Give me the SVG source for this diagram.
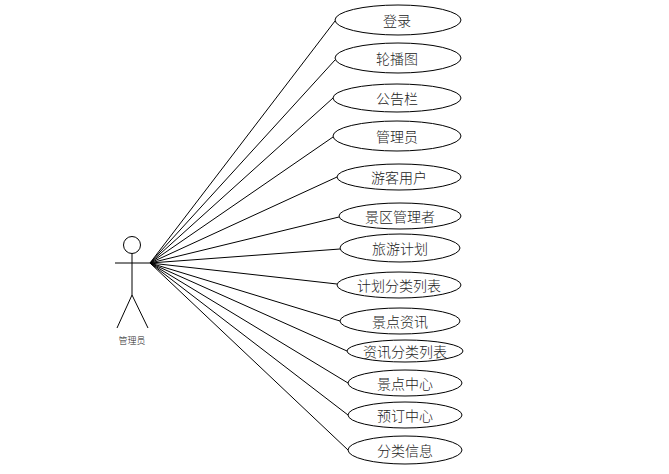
<svg xmlns="http://www.w3.org/2000/svg" width="669" height="474" viewBox="0 0 669 474">
<style>
.u ellipse{fill:#fff;stroke:#000;stroke-width:1}
.u text{font-family:"Noto Sans CJK SC",sans-serif;font-size:14px;font-weight:300;fill:#222;text-anchor:middle;dominant-baseline:central}
#conn line{stroke:#000;stroke-width:1}
.actor{stroke:#000;stroke-width:1;fill:none}
</style>
<rect width="669" height="474" fill="#fff"/>
<g id="conn">
<line x1="150" y1="263" x2="335" y2="21"/>
<line x1="150" y1="263" x2="335" y2="60"/>
<line x1="150" y1="263" x2="333" y2="98"/>
<line x1="150" y1="263" x2="333" y2="137"/>
<line x1="150" y1="263" x2="337" y2="177"/>
<line x1="150" y1="263" x2="339" y2="217"/>
<line x1="150" y1="263" x2="340" y2="249"/>
<line x1="150" y1="263" x2="337" y2="284"/>
<line x1="150" y1="263" x2="340" y2="321"/>
<line x1="150" y1="263" x2="347" y2="351"/>
<line x1="150" y1="263" x2="348" y2="383"/>
<line x1="150" y1="263" x2="348" y2="415"/>
<line x1="150" y1="263" x2="348" y2="450"/>
</g>
<g id="actor" class="actor">
<circle cx="132" cy="245" r="8.5"/>
<line x1="132" y1="253.5" x2="132" y2="295"/>
<line x1="115" y1="263" x2="150" y2="263"/>
<line x1="132" y1="295" x2="117" y2="328"/>
<line x1="132" y1="295" x2="148" y2="328"/>
<text x="132" y="340" stroke="none" fill="#222" font-family="Noto Sans CJK SC,sans-serif" font-size="9" font-weight="300" text-anchor="middle" dominant-baseline="central">管理员</text>
</g>
<g id="uc1" class="u"><ellipse cx="398" cy="20" rx="63" ry="15"/><text x="397" y="20">登录</text></g>
<g id="uc2" class="u"><ellipse cx="398" cy="58" rx="63" ry="15"/><text x="397" y="58">轮播图</text></g>
<g id="uc3" class="u"><ellipse cx="397" cy="98" rx="64" ry="14"/><text x="397" y="98">公告栏</text></g>
<g id="uc4" class="u"><ellipse cx="397" cy="136" rx="64" ry="15"/><text x="397" y="136">管理员</text></g>
<g id="uc5" class="u"><ellipse cx="399" cy="177" rx="62" ry="13"/><text x="399" y="177">游客用户</text></g>
<g id="uc6" class="u"><ellipse cx="400" cy="216" rx="61" ry="13"/><text x="400" y="216">景区管理者</text></g>
<g id="uc7" class="u"><ellipse cx="400" cy="248" rx="60" ry="14"/><text x="400" y="248">旅游计划</text></g>
<g id="uc8" class="u"><ellipse cx="399" cy="285" rx="62" ry="13"/><text x="399" y="285">计划分类列表</text></g>
<g id="uc9" class="u"><ellipse cx="400" cy="321" rx="60" ry="13"/><text x="400" y="321">景点资讯</text></g>
<g id="uc10" class="u"><ellipse cx="405" cy="351" rx="58" ry="11"/><text x="405" y="351">资讯分类列表</text></g>
<g id="uc11" class="u"><ellipse cx="405" cy="383" rx="57" ry="13"/><text x="405" y="383">景点中心</text></g>
<g id="uc12" class="u"><ellipse cx="405" cy="415" rx="57" ry="13"/><text x="405" y="415">预订中心</text></g>
<g id="uc13" class="u"><ellipse cx="405" cy="450" rx="57" ry="14"/><text x="405" y="450">分类信息</text></g>
</svg>
